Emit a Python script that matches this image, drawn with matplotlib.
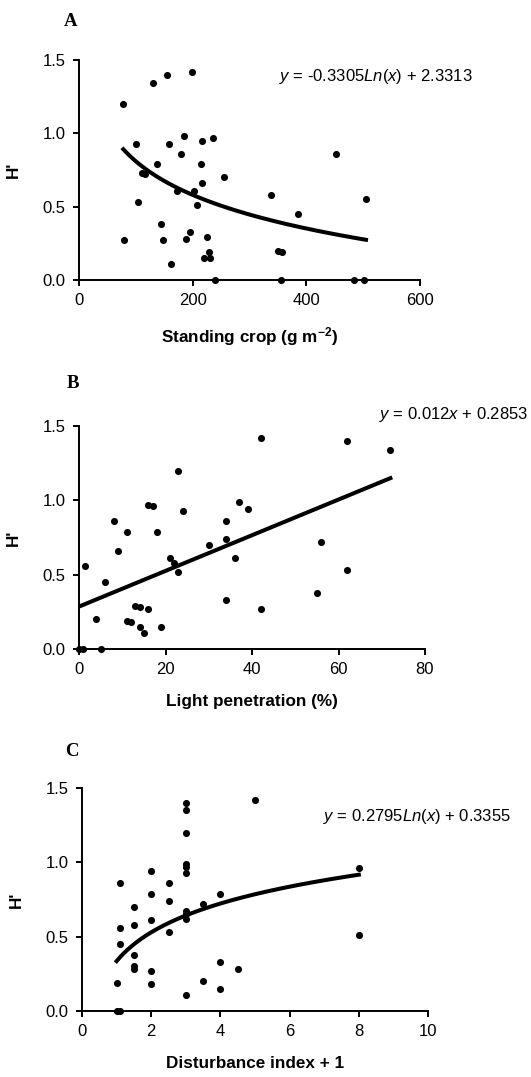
import matplotlib
matplotlib.use("Agg")
import matplotlib.pyplot as plt
import numpy as np
from matplotlib.ticker import FormatStrFormatter

plt.rcParams['font.family'] = ['Liberation Sans', 'DejaVu Sans']
plt.rcParams['mathtext.fontset'] = 'custom'
plt.rcParams['mathtext.rm'] = 'Liberation Sans'
plt.rcParams['mathtext.it'] = 'Liberation Sans:italic'
plt.rcParams['mathtext.bf'] = 'Liberation Sans:bold'

# Panel A: standing crop vs H'
crop_x = [78, 130, 155, 198, 100, 159, 185, 217, 236, 180, 137, 215, 111, 116, 256,
          216, 172, 203, 208, 103, 145, 79, 147, 195, 188, 226, 229, 220, 230, 161,
          239, 355, 337, 351, 358, 385, 453, 505, 484, 501]
crop_h = [1.20, 1.34, 1.40, 1.42, 0.93, 0.93, 0.98, 0.95, 0.97, 0.86, 0.79, 0.79, 0.73, 0.72, 0.70,
          0.66, 0.61, 0.61, 0.51, 0.53, 0.38, 0.27, 0.27, 0.33, 0.28, 0.29, 0.19, 0.15, 0.15, 0.11,
          0.00, 0.00, 0.58, 0.20, 0.19, 0.45, 0.86, 0.55, 0.00, 0.00]
crop_fit = [-0.3305, 2.3313]   # a*ln(x) + b

# Panel B: light penetration vs H'
light_x = [0, 1, 5, 1.4, 4, 6, 8, 9, 11, 11, 12, 13, 14, 16, 14, 15, 19, 16, 17, 18,
           23, 24, 21, 22, 23, 30, 34, 34, 36, 37, 39, 42, 34, 42, 62, 72, 56, 62, 55]
light_h = [0, 0, 0, 0.56, 0.20, 0.45, 0.86, 0.66, 0.79, 0.19, 0.18, 0.29, 0.28, 0.27, 0.15, 0.11, 0.15, 0.97, 0.96, 0.79,
           1.20, 0.93, 0.61, 0.58, 0.52, 0.70, 0.86, 0.74, 0.61, 0.99, 0.94, 1.42, 0.33, 0.27, 1.40, 1.34, 0.72, 0.53, 0.38]
light_fit = [0.012, 0.2853]    # a*x + b

# Panel C: disturbance index + 1 vs H'
dist_x = [1, 1, 1.1, 1.1, 1.1, 1.1, 1.5, 1.5, 1.5, 1.5, 1.5, 2, 2, 2, 2, 2, 2.5, 2.5, 2.5,
          3, 3, 3, 3, 3, 3, 3, 3, 3, 3, 3.5, 3.5, 4, 4, 4, 4.5, 5, 8, 8]
dist_h = [0.19, 0, 0, 0.86, 0.56, 0.45, 0.70, 0.58, 0.38, 0.30, 0.28, 0.94, 0.79, 0.61, 0.27, 0.18, 0.86, 0.74, 0.53,
          1.40, 1.35, 1.20, 0.99, 0.97, 0.93, 0.67, 0.65, 0.62, 0.11, 0.72, 0.20, 0.79, 0.33, 0.15, 0.28, 1.42, 0.96, 0.51]
dist_fit = [0.2795, 0.3355]    # a*ln(x) + b

W, H = 531, 1077
fig = plt.figure(figsize=(W / 100, H / 100), dpi=100)


def px_axes(left, top, right, bottom):
    return fig.add_axes([left / W, 1 - bottom / H, (right - left) / W, (bottom - top) / H])


def style(ax, xmax, xstep, xlabel):
    ax.set_xlim(0, xmax)
    ax.set_ylim(0, 1.5)
    ax.set_xticks(np.arange(0, xmax + xstep / 2, xstep))
    ax.set_yticks([0, 0.5, 1.0, 1.5])
    ax.yaxis.set_major_formatter(FormatStrFormatter('%.1f'))
    for s in ['top', 'right']:
        ax.spines[s].set_visible(False)
    for s in ['left', 'bottom']:
        ax.spines[s].set_linewidth(1.4)
    ax.tick_params(direction='out', length=4.5, width=1.4, labelsize=12, pad=5)
    ax.set_xlabel(xlabel, fontsize=12.3, fontweight='bold', labelpad=12)
    ax.set_ylabel("H'", fontsize=12.3, fontweight='bold', labelpad=16)


def dots(ax, x, y):
    ax.scatter(x, y, s=26, color='black', clip_on=False, zorder=5, linewidths=0)


# A
axA = px_axes(79, 60, 420, 280)
dots(axA, crop_x, crop_h)
xs = np.linspace(min(crop_x), max(crop_x), 200)
axA.plot(xs, crop_fit[0] * np.log(xs) + crop_fit[1], color='black', lw=2.9)
style(axA, 600, 200, r'Standing crop (g m$^{\mathbf{-2}}$)')

# B
axB = px_axes(79, 426, 425, 649)
dots(axB, light_x, light_h)
xs = np.array([0, max(light_x)])
axB.plot(xs, light_fit[0] * xs + light_fit[1], color='black', lw=2.9)
style(axB, 80, 20, 'Light penetration (%)')

# C
axC = px_axes(82, 788, 428, 1011)
dots(axC, dist_x, dist_h)
xs = np.linspace(min(dist_x), max(dist_x), 200)
axC.plot(xs, dist_fit[0] * np.log(xs) + dist_fit[1], color='black', lw=2.9)
style(axC, 10, 2, 'Disturbance index + 1')

# regression equations
eqs = [(279, 77, r'$y$ = -0.3305$Ln$($x$) + 2.3313'),
       (379, 415, r'$y$ = 0.012$x$ + 0.2853'),
       (323, 817, r'$y$ = 0.2795$Ln$($x$) + 0.3355')]
for x, y, t in eqs:
    fig.text(x / W, 1 - y / H, t, fontsize=12, ha='left', va='center')

# panel letters
for x, y, t in [(71, 22, 'A'), (73, 383, 'B'), (72, 752, 'C')]:
    fig.text(x / W, 1 - y / H, t, fontsize=13.5, fontweight='bold',
             family='Liberation Serif', ha='center', va='center')

fig.savefig('out.png', dpi=100)
